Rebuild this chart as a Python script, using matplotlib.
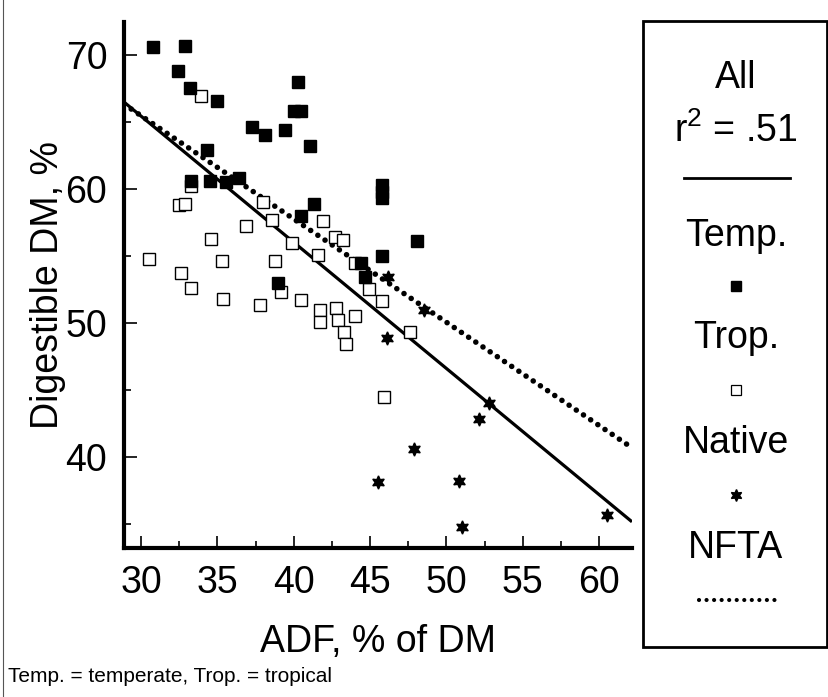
import matplotlib
matplotlib.use("Agg")
import matplotlib.pyplot as plt
from matplotlib.lines import Line2D
from matplotlib.patches import Rectangle
import numpy as np

plt.rcParams['font.family'] = ['Liberation Sans', 'DejaVu Sans']
plt.rcParams['mathtext.fontset'] = 'custom'
plt.rcParams['mathtext.rm'] = 'Liberation Sans'

# ---- data (ADF % of DM, digestible DM %) ----
temp_adf = [30.8, 32.9, 32.4, 33.2, 35.0, 37.3, 38.1, 39.4, 40.3, 40.0, 40.5, 41.1,
            34.3, 33.3, 34.5, 35.6, 36.4, 40.5, 41.3, 45.8, 45.8, 45.8, 48.1, 45.8,
            44.4, 44.7, 39.0]
temp_ddm = [70.6, 70.7, 68.8, 67.5, 66.6, 64.6, 64.0, 64.4, 68.0, 65.8, 65.8, 63.2,
            62.9, 60.6, 60.6, 60.5, 60.8, 58.0, 58.9, 60.3, 59.8, 59.3, 56.1, 55.0,
            54.5, 53.4, 53.0]

trop_adf = [33.9, 32.5, 32.9, 33.3, 38.0, 38.6, 36.9, 34.6, 39.9, 30.5, 35.3, 38.8,
            41.6, 32.6, 33.3, 35.4, 37.8, 39.2, 40.5, 41.7, 41.7, 41.9, 42.7, 43.2,
            44.0, 44.9, 45.8, 42.8, 42.9, 44.0, 43.3, 43.4, 47.6, 45.9]
trop_ddm = [66.9, 58.8, 58.9, 60.2, 59.0, 57.7, 57.2, 56.3, 56.0, 54.8, 54.6, 54.6,
            55.1, 53.7, 52.6, 51.8, 51.3, 52.3, 51.7, 51.0, 50.1, 57.6, 56.4, 56.2,
            54.5, 52.5, 51.6, 51.1, 50.2, 50.5, 49.3, 48.4, 49.3, 44.5]

native_adf = [46.2, 48.5, 46.1, 52.8, 52.1, 47.9, 45.5, 50.8, 51.0, 60.5]
native_ddm = [53.4, 51.0, 48.9, 44.0, 42.8, 40.6, 38.1, 38.2, 34.8, 35.7]

# regression lines: (intercept, slope)
all_fit = (93.7, -0.942)
nfta_fit = (88.6, -0.771)

xticks = [30, 35, 40, 45, 50, 55, 60]
yticks = [40, 50, 60, 70]

W, H = 829, 697
fig = plt.figure(figsize=(W / 100, H / 100), dpi=100)
ax = fig.add_axes([124 / W, 1 - 548 / H, (632 - 124) / W, (548 - 22) / H])
xlim = (28.89, 62.15)
ylim = (33.2, 72.46)
ax.set_xlim(*xlim)
ax.set_ylim(*ylim)

xs = np.array(xlim)
ax.plot(xs, all_fit[0] + all_fit[1] * xs, color='black', lw=2.3, zorder=2,
        solid_capstyle='butt')
ax.plot(xs, nfta_fit[0] + nfta_fit[1] * xs, color='black', lw=4.0, zorder=2,
        linestyle=(0, (0.01, 1.55)), dash_capstyle='round')

ax.plot(trop_adf, trop_ddm, linestyle='none', marker='s', markersize=8.4,
        markerfacecolor='white', markeredgecolor='black', markeredgewidth=1.0, zorder=3)
ax.plot(temp_adf, temp_ddm, linestyle='none', marker='s', markersize=8.8,
        markerfacecolor='black', markeredgecolor='black', zorder=4)
ax.plot(native_adf, native_ddm, linestyle='none', marker=(6, 1, 0), markersize=9.5,
        markerfacecolor='black', markeredgecolor='black', zorder=4)

for s in ['top', 'right']:
    ax.spines[s].set_visible(False)
for s in ['left', 'bottom']:
    ax.spines[s].set_linewidth(3)

ax.set_xticks(xticks)
ax.set_xticks([32.5, 37.5, 42.5, 47.5, 52.5, 57.5], minor=True)
ax.set_yticks(yticks)
ax.set_yticks([35, 45, 55, 65], minor=True)
ax.tick_params(which='major', direction='in', length=9, width=1.2, labelsize=27, pad=12)
ax.tick_params(which='minor', direction='in', length=5, width=1.2)

fig.text(48 / W, 1 - 285 / H, 'Digestible DM, %', rotation=90, ha='center',
         va='center', fontsize=27)
fig.text(378 / W, 1 - 642 / H, 'ADF, % of DM', ha='center', va='center', fontsize=27)
fig.text(8 / W, 1 - 676 / H, 'Temp. = temperate, Trop. = tropical', ha='left',
         va='center', fontsize=15)

# figure left frame line
fig.add_artist(Line2D([3 / W, 3 / W], [0, 1], color='#555555', lw=0.8))

# legend box
fig.add_artist(Rectangle((643 / W, 1 - 647 / H), (827 - 643) / W, (647 - 21) / H,
                         fill=False, edgecolor='black', lw=2))
cx = 736 / W
def fy(py):
    return 1 - py / H
fig.text(cx, fy(78), 'All', ha='center', va='center', fontsize=27)
fig.text(cx, fy(131), 'r$^{2}$ = .51', ha='center', va='center', fontsize=27)
fig.add_artist(Line2D([684 / W, 790 / W], [fy(178)] * 2, color='black', lw=2))
fig.text(cx, fy(236), 'Temp.', ha='center', va='center', fontsize=27)
fig.add_artist(Line2D([cx], [fy(286)], marker='s', markersize=7,
                      markerfacecolor='black', markeredgecolor='black', linestyle='none'))
fig.text(cx, fy(338), 'Trop.', ha='center', va='center', fontsize=27)
fig.add_artist(Line2D([cx], [fy(390)], marker='s', markersize=7.5,
                      markerfacecolor='white', markeredgecolor='black',
                      markeredgewidth=0.9, linestyle='none'))
fig.text(cx, fy(443), 'Native', ha='center', va='center', fontsize=27)
fig.add_artist(Line2D([cx], [fy(495)], marker=(6, 1, 0), markersize=8.5,
                      markerfacecolor='black', markeredgecolor='black', linestyle='none'))
fig.text(cx, fy(548), 'NFTA', ha='center', va='center', fontsize=27)
fig.add_artist(Line2D([699 / W, 775 / W], [fy(600)] * 2, color='black', lw=3.0,
                      linestyle=(0, (0.01, 1.8)), dash_capstyle='round'))

fig.savefig('out.png', dpi=100)
